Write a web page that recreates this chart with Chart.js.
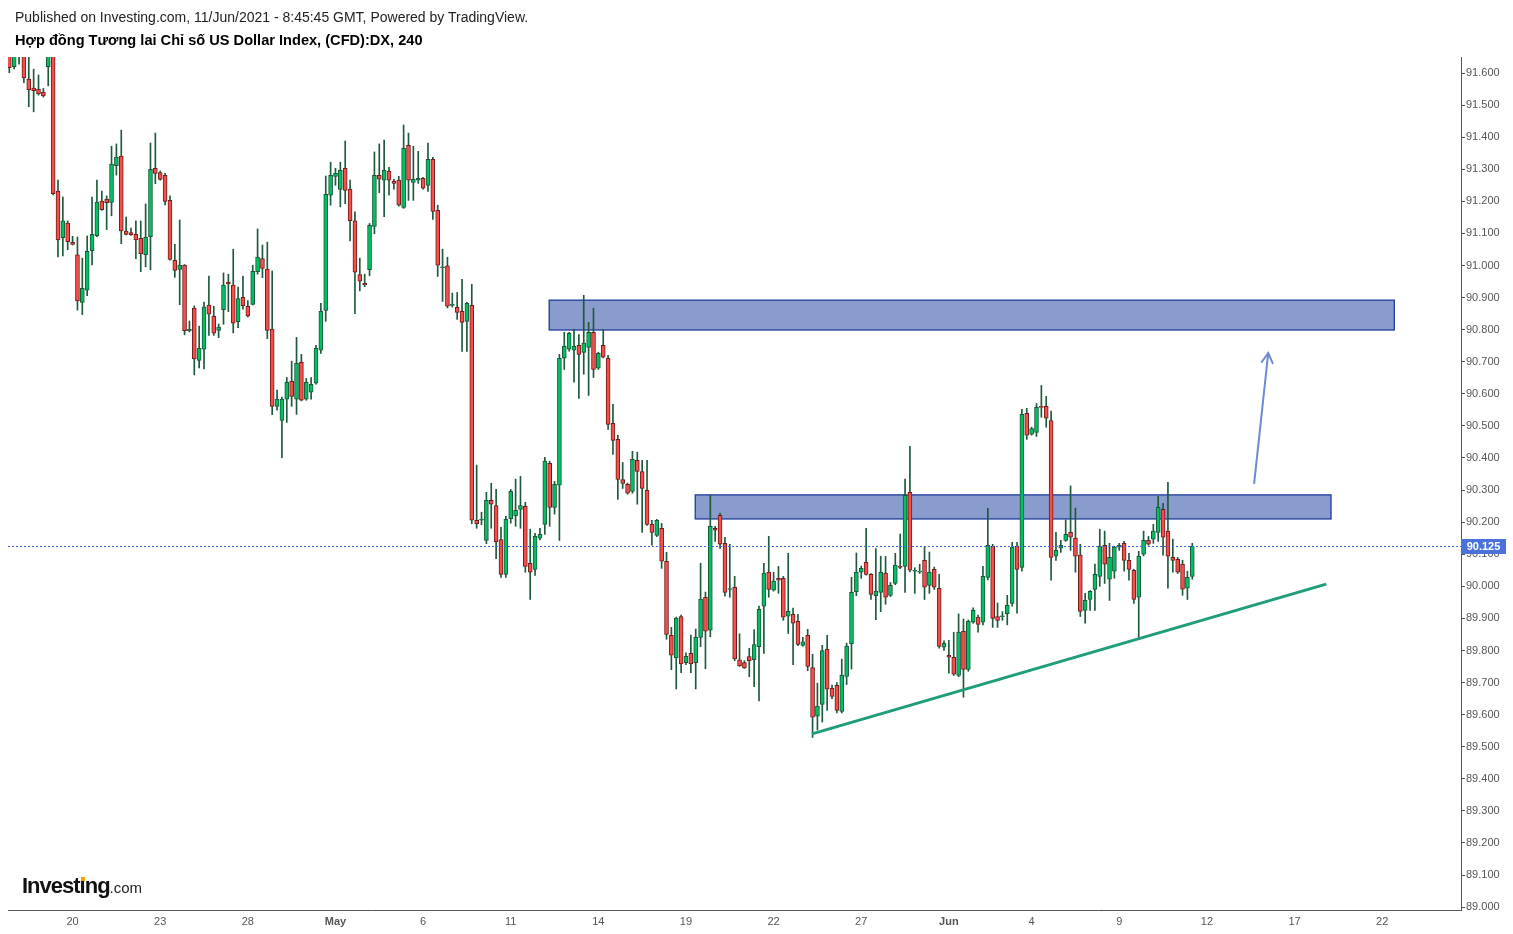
<!DOCTYPE html>
<html>
<head>
<meta charset="utf-8">
<script src="https://cdn.jsdelivr.net/npm/chart.js@4.4.1/dist/chart.umd.min.js"></script>
<style>
html,body{margin:0;padding:0;background:#fff;overflow:hidden}
#wrap{position:relative;width:1513px;height:934px;background:#fff}
canvas{position:absolute;left:0;top:0}
.t1{position:absolute;left:15px;top:9px;font:14px "Liberation Sans",Arial,sans-serif;color:#222;white-space:nowrap;line-height:16px}
.t2{position:absolute;left:15px;top:31px;font:bold 14.6px "Liberation Sans",Arial,sans-serif;color:#000;white-space:nowrap;line-height:18px}
.logo{position:absolute;left:22px;top:873px;white-space:nowrap;color:#111;line-height:26px}
.logo .a{font:bold 22px "Liberation Sans Narrow","Liberation Sans",Arial,sans-serif;letter-spacing:-1px}
.logo .b{font:15px "Liberation Sans Narrow","Liberation Sans",Arial,sans-serif;color:#222}
.logo .d{position:relative}
.logo .d::after{content:'';position:absolute;left:1px;top:4px;width:4px;height:4px;background:#f5a000}
</style>
</head>
<body>
<div id="wrap">
<canvas id="c" width="1513" height="934"></canvas>
<div class="t1">Published on Investing.com, 11/Jun/2021 - 8:45:45 GMT, Powered by TradingView.</div>
<div class="t2">Hợp đồng Tương lai Chỉ số US Dollar Index, (CFD):DX, 240</div>
<div class="logo"><span class="a">Invest<span class="d">ı</span>ng</span><span class="b">.com</span></div>
</div>
<script>
// ---- data (4h candles, index 0..243) ----
const opens = [91.66,91.620,91.66,91.69,91.581,91.553,91.550,91.541,91.620,91.68,
91.232,91.087,91.132,91.072,91.033,90.885,90.923,91.046,91.093,91.201,
91.207,91.197,91.311,91.341,91.107,91.103,91.097,91.085,91.034,91.090,
91.303,91.290,91.281,91.203,91.016,90.988,91.001,90.797,90.867,90.704,
90.739,90.877,90.842,90.798,90.862,90.948,90.939,90.825,90.901,90.873,
90.879,90.981,91.022,90.989,90.802,90.561,90.517,90.583,90.639,90.583,
90.698,90.583,90.605,90.633,90.736,90.860,91.219,91.278,91.237,91.303,
91.238,91.139,90.972,90.945,90.987,91.122,91.281,91.266,91.294,91.263,
91.266,91.181,91.375,91.259,91.266,91.272,91.250,91.331,91.172,90.993,
90.999,90.876,90.870,90.857,90.826,90.876,90.206,90.206,90.143,90.268,
90.252,90.146,90.037,90.211,90.220,90.240,90.249,90.072,90.053,90.150,
90.193,90.383,90.246,90.315,90.711,90.739,90.736,90.751,90.729,90.745,
90.792,90.680,90.751,90.711,90.508,90.458,90.333,90.318,90.296,90.393,
90.358,90.299,90.193,90.159,90.181,90.078,89.847,89.777,89.906,89.762,
89.791,89.762,89.841,89.966,89.863,90.181,90.221,90.134,89.990,89.997,
89.771,89.762,89.781,89.771,89.812,89.938,90.044,89.988,90.025,90.025,
89.907,89.913,89.891,89.816,89.847,89.747,89.595,89.632,89.804,89.682,
89.691,89.610,89.719,89.821,89.983,90.044,90.075,90.037,89.971,89.981,
90.041,89.972,90.009,90.063,90.062,90.293,90.047,90.044,90.081,90.003,
90.053,89.994,89.810,89.785,89.779,89.722,89.860,89.741,89.888,89.904,
89.888,90.028,90.125,89.906,89.905,89.915,89.947,90.125,90.059,90.539,
90.474,90.480,90.561,90.561,90.517,90.094,90.119,90.143,90.168,90.150,
90.097,89.925,89.959,89.990,90.031,90.128,90.022,90.047,90.122,90.134,
90.081,90.050,89.966,90.100,90.143,90.147,90.168,90.240,90.172,90.090,
90.084,90.069,89.994,90.031];
const highs = [91.68,91.68,91.70,91.71,91.651,91.612,91.594,91.552,91.70,91.70,
91.266,91.213,91.139,91.091,91.089,91.023,91.092,91.213,91.266,91.232,
91.217,91.372,91.379,91.422,91.151,91.117,91.139,91.139,91.192,91.382,
91.413,91.295,91.287,91.217,91.066,91.142,91.003,90.827,90.874,90.811,
90.886,90.967,90.873,90.818,90.977,90.973,91.051,90.933,90.967,90.891,
91.001,91.114,91.064,91.073,90.983,90.612,90.590,90.651,90.702,90.776,
90.723,90.648,90.651,90.751,90.882,91.279,91.322,91.303,91.322,91.388,
91.266,91.167,91.023,90.973,91.131,91.354,91.379,91.391,91.306,91.269,
91.278,91.438,91.413,91.372,91.356,91.275,91.382,91.337,91.188,91.051,
91.026,90.914,90.916,90.957,90.885,90.941,90.378,90.231,90.293,90.321,
90.302,90.184,90.218,90.302,90.334,90.343,90.262,90.178,90.165,90.181,
90.402,90.390,90.327,90.723,90.792,90.792,90.801,90.785,90.907,90.823,
90.867,90.730,90.801,90.720,90.567,90.471,90.386,90.322,90.421,90.418,
90.393,90.393,90.206,90.209,90.196,90.106,89.872,89.904,89.910,89.793,
89.848,89.867,90.072,89.982,90.284,90.187,90.228,90.153,90.131,90.031,
89.852,89.768,89.807,89.865,89.938,90.072,90.156,90.044,90.062,90.031,
90.103,89.932,89.913,89.841,89.866,89.788,89.698,89.816,89.847,89.692,
89.700,89.773,89.823,90.028,90.104,90.063,90.181,90.040,90.118,90.094,
90.093,90.012,90.103,90.163,90.334,90.436,90.058,90.069,90.122,90.107,
90.060,90.037,89.830,89.832,89.857,89.914,89.898,89.895,89.933,89.910,
90.062,90.243,90.131,89.948,89.921,89.972,90.137,90.137,90.552,90.555,
90.496,90.570,90.626,90.592,90.546,90.168,90.143,90.207,90.313,90.244,
90.131,89.978,89.987,90.069,90.178,90.172,90.134,90.125,90.134,90.140,
90.103,90.053,90.109,90.172,90.156,90.193,90.281,90.259,90.324,90.147,
90.090,90.081,90.047,90.134];
const lows = [91.601,91.613,91.628,91.570,91.495,91.479,91.531,91.525,91.560,91.220,
91.027,91.030,91.049,91.064,90.861,90.847,90.906,91.002,91.090,91.172,
91.112,91.155,91.282,91.068,91.095,91.094,91.021,90.981,90.996,90.987,
91.255,91.266,91.189,91.017,90.963,90.878,90.784,90.793,90.659,90.681,
90.678,90.782,90.782,90.775,90.817,90.856,90.790,90.806,90.864,90.840,
90.877,90.973,90.962,90.772,90.535,90.549,90.401,90.511,90.561,90.536,
90.578,90.580,90.583,90.630,90.726,90.826,91.188,91.250,91.183,91.193,
91.077,90.850,90.921,90.934,90.968,91.099,91.227,91.152,91.219,91.238,
91.185,91.178,91.203,91.203,91.256,91.238,91.231,91.144,90.966,90.888,
90.868,90.870,90.832,90.732,90.732,90.195,90.181,90.192,90.133,90.181,
90.086,90.028,90.028,90.197,90.187,90.181,90.044,89.959,90.034,90.145,
90.162,90.187,90.225,90.143,90.676,90.733,90.636,90.586,90.661,90.595,
90.651,90.676,90.712,90.489,90.411,90.271,90.305,90.287,90.290,90.256,
90.168,90.190,90.128,90.155,90.056,89.835,89.740,89.680,89.731,89.756,
89.731,89.680,89.812,89.743,89.843,90.140,90.118,89.969,89.966,89.768,
89.750,89.744,89.718,89.687,89.643,89.791,89.966,89.985,89.978,89.894,
89.853,89.756,89.815,89.813,89.737,89.529,89.552,89.577,89.613,89.650,
89.605,89.605,89.694,89.742,89.971,90.025,90.035,89.959,89.896,89.921,
89.944,89.968,90.005,90.055,89.981,90.045,89.978,90.040,89.959,89.978,
89.990,89.807,89.800,89.729,89.722,89.718,89.654,89.735,89.885,89.857,
89.880,90.020,89.872,89.872,89.894,89.880,89.938,89.916,90.047,90.458,
90.471,90.467,90.527,90.496,90.019,90.081,90.106,90.140,90.112,90.044,
89.906,89.885,89.925,89.925,90.000,90.009,89.956,90.025,90.112,90.047,
90.019,89.947,89.835,90.095,90.128,90.134,90.140,90.097,89.994,90.044,
90.040,89.972,89.959,90.022];
const closes = [91.617,91.66,91.69,91.585,91.548,91.545,91.535,91.529,91.68,91.224,
91.080,91.139,91.074,91.066,90.890,90.929,91.044,91.097,91.198,91.174,
91.196,91.316,91.338,91.108,91.097,91.096,91.080,91.037,91.088,91.300,
91.287,91.268,91.200,91.019,90.985,91.001,90.797,90.801,90.709,90.742,
90.871,90.848,90.789,90.808,90.939,90.943,90.820,90.897,90.875,90.843,
90.982,91.026,90.991,90.798,90.561,90.584,90.584,90.636,90.592,90.695,
90.580,90.636,90.630,90.742,90.857,91.222,91.281,91.287,91.297,91.234,
91.140,90.979,90.951,90.940,91.125,91.281,91.269,91.297,91.266,91.256,
91.188,91.365,91.266,91.269,91.272,91.241,91.331,91.169,91.001,90.996,
90.873,90.879,90.854,90.823,90.882,90.206,90.195,90.207,90.268,90.256,
90.139,90.037,90.209,90.296,90.237,90.252,90.062,90.044,90.156,90.162,
90.390,90.246,90.318,90.711,90.748,90.789,90.748,90.723,90.758,90.792,
90.676,90.726,90.714,90.505,90.455,90.333,90.321,90.290,90.396,90.358,
90.305,90.193,90.168,90.206,90.078,89.850,89.785,89.901,89.758,89.782,
89.758,89.841,89.960,89.860,90.187,90.175,90.131,89.981,89.990,89.774,
89.752,89.746,89.768,89.818,89.928,90.041,89.990,90.016,90.019,89.904,
89.922,89.885,89.819,89.827,89.750,89.592,89.627,89.800,89.679,89.657,
89.613,89.723,89.814,89.981,90.044,90.056,90.037,89.975,89.984,90.044,
89.966,90.003,90.066,90.059,90.284,90.050,90.050,90.044,89.997,90.044,
89.997,89.813,89.822,89.779,89.726,89.857,89.741,89.891,89.925,89.881,
90.031,90.128,89.900,89.894,89.907,89.941,90.122,90.053,90.536,90.471,
90.492,90.558,90.558,90.524,90.090,90.112,90.128,90.162,90.153,90.094,
89.922,89.956,89.984,90.037,90.125,90.069,90.090,90.122,90.128,90.081,
90.053,89.959,90.094,90.143,90.131,90.172,90.246,90.153,90.094,90.081,
90.044,89.991,90.028,90.125];

// x-axis tick labels (candle index of each date label)
const xTickPos = [13,31,49,67,85,103,121,139,157,175,193,210,228,246,264,282];
const xTickLabels = ['20','23','28','May','6','11','14','19','22','27','Jun','4','9','12','17','22'];
const xMonthLabels = ['May','Jun'];
// y-axis ticks
const yTickValues = [89.0,89.1,89.2,89.3,89.4,89.5,89.6,89.7,89.8,89.9,90.0,90.1,90.2,90.3,90.4,90.5,90.6,90.7,90.8,90.9,91.0,91.1,91.2,91.3,91.4,91.5,91.6];
const lastPrice = 90.125;

// drawings (in candle-index / price units)
const zoneStart = [110.9, 140.9];
const zoneEnd   = [284.5, 271.5];
const zoneLow   = [90.799, 90.210];
const zoneHigh  = [90.892, 90.285];
const trendX = [164.9, 270.5];
const trendY = [89.540, 90.007];
const arrowX = [255.7, 258.6];
const arrowY = [90.319, 90.727];

// ---- build ----
const idx = opens.map((_, i) => i);
const up = idx.map(i => closes[i] >= opens[i]);
const bodyFill = up.map(u => u ? '#00c162' : '#f44f4b');
const bodyBorder = up.map(u => u ? '#17573a' : '#6e1c1c');
const wickColor = '#1c5a3b';

const overlay = {
  id: 'overlay',
  beforeDatasetsDraw(chart) {
    const {ctx, chartArea: a, scales: {x, y}} = chart;
    ctx.save();
    ctx.beginPath(); ctx.rect(a.left, a.top, a.right - a.left, a.bottom - a.top); ctx.clip();
    for (let k = 0; k < zoneStart.length; k++) {
      const x0 = x.getPixelForValue(zoneStart[k]), x1 = x.getPixelForValue(zoneEnd[k]);
      const y0 = y.getPixelForValue(zoneHigh[k]), y1 = y.getPixelForValue(zoneLow[k]);
      ctx.fillStyle = '#8a9ccd';
      ctx.fillRect(x0, y0, x1 - x0, y1 - y0);
      ctx.strokeStyle = '#1d3c9c';
      ctx.lineWidth = 1.3;
      ctx.strokeRect(x0, y0, x1 - x0, y1 - y0);
    }
    ctx.restore();
  },
  afterDatasetsDraw(chart) {
    const {ctx, chartArea: a, scales: {x, y}} = chart;
    ctx.save();
    const py = Math.round(y.getPixelForValue(lastPrice)) + 0.5;
    ctx.strokeStyle = '#3f6ad8';
    ctx.lineWidth = 1;
    ctx.setLineDash([2, 2]);
    ctx.beginPath(); ctx.moveTo(a.left, py); ctx.lineTo(a.right, py); ctx.stroke();
    ctx.setLineDash([]);
    const tx = x.getPixelForValue(arrowX[1]), ty = y.getPixelForValue(arrowY[1]);
    const sx = x.getPixelForValue(arrowX[0]), sy = y.getPixelForValue(arrowY[0]);
    const ang = Math.atan2(ty - sy, tx - sx);
    const L = 11, spread = Math.PI / 6;
    ctx.strokeStyle = '#7089d1';
    ctx.lineWidth = 2;
    ctx.lineCap = 'round';
    ctx.beginPath();
    ctx.moveTo(tx - L * Math.cos(ang - spread), ty - L * Math.sin(ang - spread));
    ctx.lineTo(tx, ty);
    ctx.lineTo(tx - L * Math.cos(ang + spread), ty - L * Math.sin(ang + spread));
    ctx.stroke();
    ctx.restore();
  },
  afterDraw(chart) {
    const {ctx, chartArea: a, scales: {y}} = chart;
    const py = y.getPixelForValue(lastPrice);
    ctx.save();
    ctx.fillStyle = '#4a72d8';
    ctx.fillRect(a.right, Math.round(py) - 7, 45, 15);
    ctx.fillStyle = '#fff';
    ctx.font = 'bold 11px "Liberation Sans", Arial, sans-serif';
    ctx.textAlign = 'center';
    ctx.textBaseline = 'middle';
    ctx.fillText(lastPrice.toFixed(3), a.right + 22.5, Math.round(py) + 1);
    ctx.restore();
  }
};

new Chart(document.getElementById('c'), {
  data: {
    datasets: [
      {
        type: 'line', order: 0,
        data: trendX.map((v, k) => ({x: v, y: trendY[k]})),
        borderColor: '#1f9d7b', borderWidth: 3, pointRadius: 0, tension: 0
      },
      {
        type: 'line', order: 0,
        data: arrowX.map((v, k) => ({x: v, y: arrowY[k]})),
        borderColor: '#7089d1', borderWidth: 2, pointRadius: 0, tension: 0
      },
      {
        type: 'bar', order: 1,
        data: idx.map(i => ({x: i, y: [opens[i], closes[i]]})),
        backgroundColor: bodyFill, borderColor: bodyBorder,
        borderWidth: 1, borderSkipped: false, barThickness: 4,
        grouped: false, minBarLength: 1
      },
      {
        type: 'bar', order: 2,
        data: idx.map(i => ({x: i, y: [lows[i], highs[i]]})),
        backgroundColor: wickColor, borderWidth: 0,
        barThickness: 1, grouped: false, minBarLength: 1
      }
    ]
  },
  options: {
    responsive: false,
    animation: false,
    devicePixelRatio: 1,
    layout: {padding: {left: 8, top: 57, right: 0, bottom: 0}},
    plugins: {legend: {display: false}, tooltip: {enabled: false}, title: {display: false}},
    scales: {
      x: {
        type: 'linear', position: 'bottom',
        min: -0.267, max: 298.2, offset: false,
        grid: {display: false, drawTicks: false, tickLength: 0},
        border: {display: true, color: '#555', width: 1},
        afterBuildTicks: s => { s.ticks = xTickPos.map(v => ({value: v})); },
        afterFit: s => { s.height = 24; },
        ticks: {
          autoSkip: false, maxRotation: 0, minRotation: 0, padding: 5,
          color: '#555',
          font: ctx => ({family: '"Liberation Sans", Arial, sans-serif', size: 11,
            weight: xMonthLabels.includes(xTickLabels[ctx.index]) ? 'bold' : 'normal'}),
          callback: (v, i) => xTickLabels[i]
        }
      },
      y: {
        type: 'linear', position: 'right',
        min: 88.991, max: 91.650,
        grid: {display: true, drawOnChartArea: false, drawTicks: true, tickLength: 4, color: '#555'},
        border: {display: true, color: '#555', width: 1},
        afterBuildTicks: s => { s.ticks = yTickValues.map(v => ({value: v})); },
        afterFit: s => { s.width = 52; },
        ticks: {
          padding: 1, color: '#555',
          font: {family: '"Liberation Sans", Arial, sans-serif', size: 11},
          callback: v => Number(v).toFixed(3)
        }
      }
    }
  },
  plugins: [overlay]
});
</script>
</body>
</html>
